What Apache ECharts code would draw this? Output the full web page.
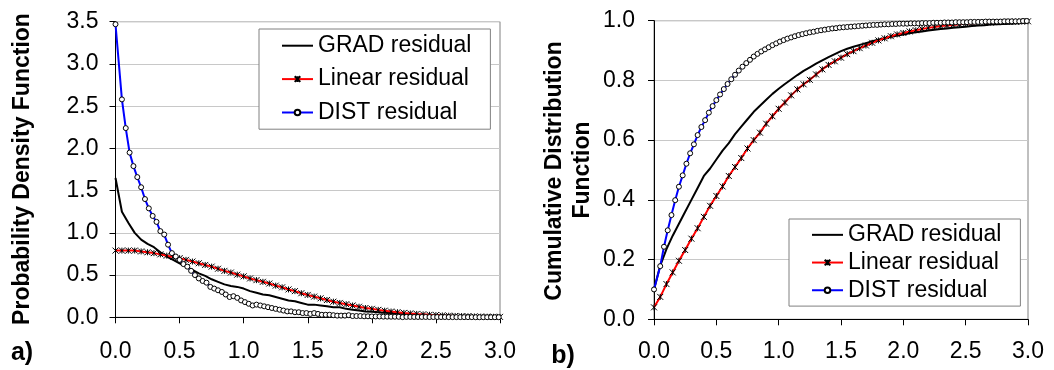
<!DOCTYPE html>
<html><head><meta charset="utf-8">
<script src="https://cdn.jsdelivr.net/npm/echarts@6/dist/echarts.min.js"></script>
<style>html,body{margin:0;padding:0;background:#fff}#c{width:1054px;height:370px}</style>
</head><body><div id="c"></div><script>
// ---------- data ----------
const seriesNames = ['GRAD residual', 'Linear residual', 'DIST residual'];
const xTickLabels = ['0.0','0.5','1.0','1.5','2.0','2.5','3.0'];
const pdfTickLabels = ['0.0','0.5','1.0','1.5','2.0','2.5','3.0','3.5'];
const cdfTickLabels = ['0.0','0.2','0.4','0.6','0.8','1.0'];

// x grid of GRAD and Linear samples: 0 to 3.0 by 0.05
const xFineStart = 0, xFineStep = 0.05, xFineCount = 61;
// x grid of DIST samples: 0, then 0.05 to 2.99 by 0.03
const xDistFirst = 0, xDistStart = 0.05, xDistStep = 0.03, xDistCount = 99;

const gradPdf = [1.65,1.25,1.12,1.00,0.92,0.87,0.83,0.77,0.72,0.68,0.64,0.60,0.56,0.52,0.49,0.45,0.42,0.39,0.37,0.36,
 0.34,0.31,0.29,0.27,0.26,0.24,0.22,0.20,0.19,0.17,0.15,0.15,0.14,0.13,0.12,0.12,0.10,0.09,0.08,0.07,
 0.065,0.06,0.055,0.05,0.045,0.04,0.035,0.03,0.028,0.025,0.022,0.02,0.018,0.016,0.014,0.012,0.01,0.009,0.008,0.007,0.006];
const linearPdf = [0.79,0.79,0.79,0.79,0.78,0.77,0.76,0.745,0.73,0.715,0.70,0.68,0.66,0.64,0.62,0.60,0.575,0.55,0.53,0.505,
 0.485,0.46,0.44,0.42,0.40,0.375,0.355,0.33,0.31,0.285,0.265,0.245,0.225,0.205,0.185,0.17,0.155,0.14,0.125,0.11,
 0.10,0.088,0.078,0.068,0.06,0.052,0.046,0.04,0.035,0.03,0.026,0.022,0.019,0.016,0.014,0.012,0.01,0.008,0.007,0.006,0.005];
const distPdf = [3.47,2.58,2.24,1.95,1.79,1.66,1.54,1.40,1.29,1.20,1.13,1.02,0.98,0.86,0.76,0.72,0.68,0.63,0.60,0.55,
 0.50,0.46,0.43,0.41,0.36,0.34,0.32,0.30,0.27,0.24,0.25,0.23,0.20,0.18,0.16,0.14,0.15,0.14,0.13,0.12,
 0.11,0.10,0.09,0.08,0.07,0.07,0.06,0.06,0.05,0.05,0.04,0.05,0.04,0.03,0.03,0.03,0.025,0.02,0.02,0.02,
 0.025,0.015,0.015,0.015,0.012,0.012,0.01,0.01,0.01,0.008,0.008,0.007,0.007,0.006,0.002,0.005,0.005,
 0.004,0.004,0.004,0.004,0.003,0.003,0.003,0.003,0.003,0.002,0.002,0.002,0.002,0.002,0.002,0.002,0.001,0.001,0.001,0.001,0.001,0.001,0.001];

const gradCdf = [0.10,0.18,0.235,0.28,0.32,0.36,0.40,0.44,0.48,0.505,0.535,0.565,0.59,0.62,0.645,0.67,0.695,0.715,0.735,0.755,
 0.772,0.788,0.803,0.818,0.832,0.844,0.856,0.867,0.878,0.888,0.898,0.906,0.913,0.919,0.925,0.931,0.936,0.941,0.946,0.950,
 0.954,0.958,0.961,0.964,0.967,0.970,0.972,0.974,0.976,0.978,0.980,0.982,0.984,0.985,0.987,0.988,0.989,0.990,0.991,0.992,0.993];
const linearCdf = [0.04,0.075,0.118,0.157,0.196,0.232,0.27,0.305,0.343,0.38,0.413,0.445,0.48,0.51,0.54,0.572,0.60,0.625,0.655,0.68,
 0.705,0.726,0.75,0.77,0.787,0.802,0.82,0.837,0.852,0.864,0.876,0.888,0.898,0.908,0.917,0.926,0.934,0.941,0.948,0.954,
 0.959,0.964,0.968,0.972,0.976,0.979,0.982,0.984,0.986,0.988,0.99,0.991,0.992,0.993,0.994,0.995,0.996,0.996,0.997,0.997,0.998];
const distCdf = [0.100,0.178,0.243,0.298,0.349,0.399,0.444,0.482,0.521,0.556,0.586,0.617,0.644,0.667,0.692,0.714,0.734,
 0.753,0.771,0.788,0.804,0.819,0.833,0.846,0.858,0.869,0.880,0.889,0.897,0.904,0.911,0.918,0.924,0.930,0.935,0.940,0.944,
 0.948,0.952,0.955,0.958,0.961,0.963,0.966,0.968,0.970,0.972,0.974,0.975,0.977,0.978,0.979,0.980,0.981,0.982,0.983,0.984,
 0.985,0.986,0.986,0.987,0.988,0.988,0.989,0.989,0.990,0.990,
 0.990,0.991,0.991,0.991,0.992,0.992,0.992,0.993,0.993,0.993,0.994,0.994,0.994,0.995,0.995,0.995,0.995,0.996,0.996,0.996,
 0.996,0.997,0.997,0.997,0.997,0.997,0.998,0.998,0.998,0.998,0.998,0.999,0.999,0.999];

// ---------- build ----------
const xFine = []; for (let i = 0; i < xFineCount; i++) xFine.push(+(xFineStart + i * xFineStep).toFixed(3));
const xDist = [xDistFirst]; for (let i = 0; i < xDistCount; i++) xDist.push(+(xDistStart + i * xDistStep).toFixed(3));
const zip = (xs, ys) => ys.map((y, i) => [xs[i], y]);

const FONT = "'Liberation Sans', Arial, sans-serif";
const starPath = 'path://M0,0L8,8M8,0L0,8M4,0L4,8';

function axisX(grid, margin) {
  return {
    type: 'value', gridIndex: grid, min: 0, max: 3, interval: 0.5,
    axisLine: { show: true, onZero: false, lineStyle: { color: '#000', width: 1 } },
    axisTick: { show: true, length: 6, lineStyle: { color: '#000' } },
    splitLine: { show: false },
    axisLabel: { color: '#000', fontFamily: FONT, fontSize: 23, margin: margin,
      formatter: v => xTickLabels[Math.round(v / 0.5)] }
  };
}
function axisY(grid, max, interval, labels, margin) {
  return {
    type: 'value', gridIndex: grid, min: 0, max: max, interval: interval,
    axisLine: { show: true, onZero: false, lineStyle: { color: '#000', width: 1 } },
    axisTick: { show: true, length: 6, lineStyle: { color: '#000' } },
    splitLine: { show: true, lineStyle: { color: '#c8c8c8', width: 1 } },
    axisLabel: { color: '#000', fontFamily: FONT, fontSize: 23, margin: margin,
      formatter: v => labels[Math.round(v / interval)] }
  };
}
function makeSeries(gi, grad, lin, dist) {
  return [
    { name: seriesNames[0], type: 'line', xAxisIndex: gi, yAxisIndex: gi, data: zip(xFine, grad),
      symbol: 'none', clip: false, lineStyle: { color: '#000', width: 2 }, itemStyle: { color: '#000' } },
    { name: seriesNames[1], type: 'line', xAxisIndex: gi, yAxisIndex: gi, data: zip(xFine, lin),
      symbol: starPath, symbolSize: 6, clip: false,
      lineStyle: { color: '#ff0000', width: 2 }, itemStyle: { color: '#000', borderColor: '#000', borderWidth: 1 } },
    { name: seriesNames[2], type: 'line', xAxisIndex: gi, yAxisIndex: gi, data: zip(xDist, dist),
      symbol: 'circle', symbolSize: 5, clip: false,
      lineStyle: { color: '#0000ff', width: 2 }, itemStyle: { color: '#fff', borderColor: '#000', borderWidth: 1 } }
  ];
}
function legend(left, top, lh, pad) {
  return {
    data: [
      { name: seriesNames[0], itemStyle: { color: 'rgba(0,0,0,0)', borderColor: 'rgba(0,0,0,0)', borderWidth: 0 } },
      { name: seriesNames[1] },
      { name: seriesNames[2] }
    ],
    orient: 'vertical', left: left, top: top, itemGap: 0, itemWidth: 31, itemHeight: 7,
    padding: pad, backgroundColor: '#fff', borderColor: '#808080', borderWidth: 1, selectedMode: false,
    textStyle: { color: '#000', fontFamily: FONT, fontSize: 23, lineHeight: lh }
  };
}

const chart = echarts.init(document.getElementById('c'), null, { renderer: 'canvas' });
chart.setOption({
  animation: false,
  backgroundColor: '#fff',
  grid: [
    { left: 115.5, top: 21.7, width: 384.5, height: 295.6, show: true, borderColor: '#808080', borderWidth: 1, containLabel: false },
    { left: 654, top: 20.7, width: 374, height: 298.6, show: true, borderColor: '#808080', borderWidth: 1, containLabel: false }
  ],
  xAxis: [axisX(0, 23), axisX(1, 21)],
  yAxis: [axisY(0, 3.5, 0.5, pdfTickLabels, 17), axisY(1, 1, 0.2, cdfTickLabels, 19)],
  legend: [legend(259, 29, 33.4, [0, 19, 0, 22]), legend(789, 219, 27.7, [2, 19, 2, 22])],
  series: makeSeries(0, gradPdf, linearPdf, distPdf).concat(makeSeries(1, gradCdf, linearCdf, distCdf)),
  graphic: [
    { type: 'text', x: 23, y: 169, rotation: Math.PI / 2,
      style: { text: 'Probability Density Function', font: "bold 23px 'Liberation Sans', Arial, sans-serif", fill: '#000', textAlign: 'center', textVerticalAlign: 'middle' } },
    { type: 'text', x: 555, y: 171, rotation: Math.PI / 2,
      style: { text: 'Cumulative Distribution', font: "bold 23px 'Liberation Sans', Arial, sans-serif", fill: '#000', textAlign: 'center', textVerticalAlign: 'middle' } },
    { type: 'text', x: 583, y: 170, rotation: Math.PI / 2,
      style: { text: 'Function', font: "bold 23px 'Liberation Sans', Arial, sans-serif", fill: '#000', textAlign: 'center', textVerticalAlign: 'middle' } },
    { type: 'text', x: 22, y: 353,
      style: { text: 'a)', font: "bold 25px 'Liberation Sans', Arial, sans-serif", fill: '#000', textAlign: 'center', textVerticalAlign: 'middle' } },
    { type: 'text', x: 563, y: 356,
      style: { text: 'b)', font: "bold 25px 'Liberation Sans', Arial, sans-serif", fill: '#000', textAlign: 'center', textVerticalAlign: 'middle' } }
  ]
});
</script></body></html>
